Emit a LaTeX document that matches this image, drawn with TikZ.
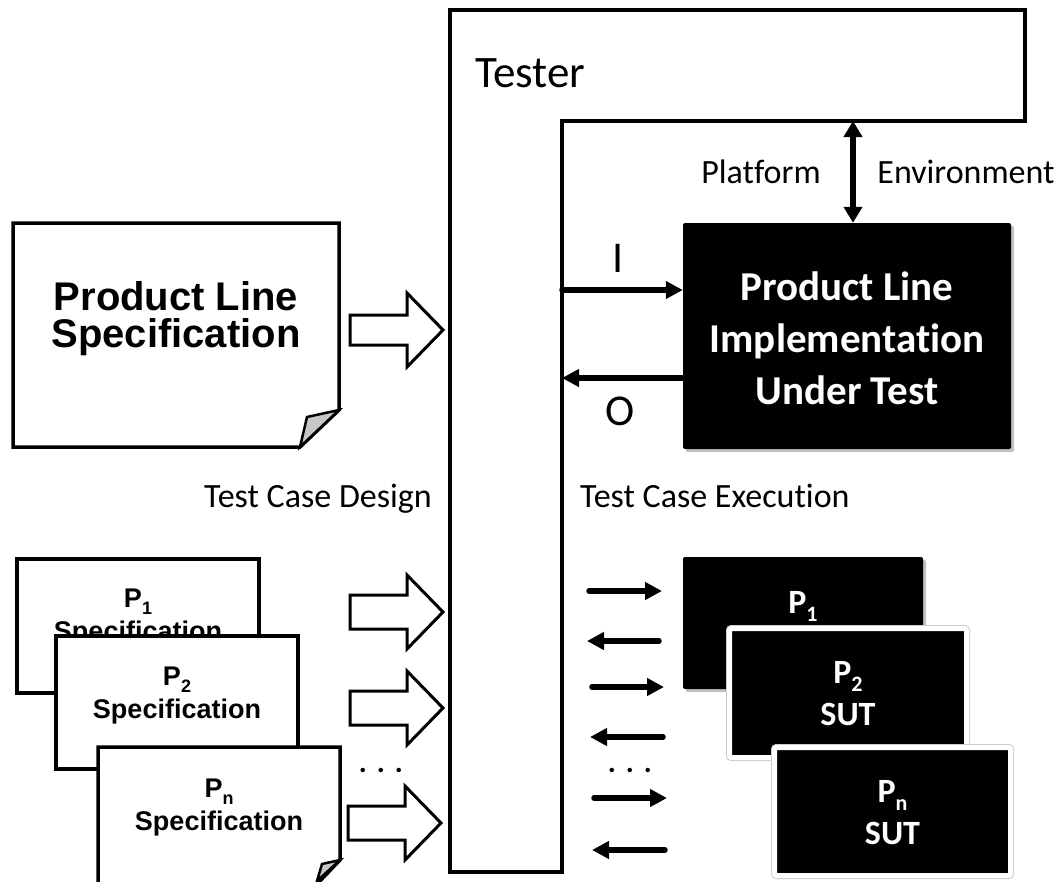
\documentclass[tikz,border=0pt]{standalone}
\usepackage{fontspec}
\setmainfont{Carlito}[Ligatures=NoCommon]
\newfontfamily\arialfont{Liberation Sans}[Ligatures=NoCommon]
\usetikzlibrary{arrows.meta,shadows,calc}
\newcommand{\subsc}[3]{\raisebox{-#1pt}{\fontsize{#2}{#2}\selectfont #3}}
\tikzset{
  testerline/.style={line width=4pt, line join=miter},
  doc/.style={line width=3.5pt, fill=white, line join=miter},
  fold/.style={line width=2.5pt, fill=black!22, line join=miter},
  blk/.style={line width=3pt, fill=white, line join=miter},
  arr/.style={line width=5.5pt, line cap=round, -{Triangle[length=17pt,width=17pt]}},
  dbl/.style={line width=6pt, {Triangle[length=16pt,width=18pt]}-{Triangle[length=16pt,width=18pt]}},
  sutbox/.style={fill=black, rounded corners=2pt, inner sep=0pt, drop shadow={shadow xshift=3pt, shadow yshift=-3pt, opacity=0.35, fill=black!70}},
  subbox/.style={fill=black, rounded corners=2pt, inner sep=0pt, preaction={draw=black!20, line width=7pt}, draw=white, line width=5pt},
  wtxt/.style={text=white, font=\bfseries\fontsize{41}{48}\selectfont, inner sep=0pt, anchor=base},
  swtxt/.style={text=white, font=\bfseries\fontsize{34}{40}\selectfont, inner sep=0pt, anchor=base},
  lbl/.style={font=\fontsize{34}{40}\selectfont, inner sep=0pt, anchor=base},
  bigspec/.style={font=\arialfont\bfseries\fontsize{40}{46}\selectfont, inner sep=0pt, anchor=base},
  smspec/.style={font=\arialfont\bfseries\fontsize{27}{32}\selectfont, inner sep=0pt, anchor=base},
  dots/.style={font=\bfseries\fontsize{30}{34}\selectfont, inner sep=0pt, anchor=base}
}
\newcommand{\blockarr}[3]{% left x, center y, half body
  \draw[blk] (#1,#2-#3) -- (#1+57,#2-#3) -- (#1+57,#2-37) -- (#1+93,#2) -- (#1+57,#2+37) -- (#1+57,#2+#3) -- (#1,#2+#3) -- cycle;}
\begin{document}
\begin{tikzpicture}[x=1pt,y=-1pt]
\useasboundingbox (0,0) rectangle (1064,881);
\clip (0,0) rectangle (1064,881);

% Tester
\draw[testerline] (450,10) -- (1025,10) -- (1025,121) -- (562,121) -- (562,872) -- (450,872) -- cycle;
\node[font=\fontsize{45}{50}\selectfont, inner sep=0pt, anchor=base west] (tester) at (475,87) {Tester};
\coordinate (envtop) at (853,121);
\coordinate (tI) at (562,290);
\coordinate (tO) at (562,378);

% Product line implementation under test
\node[sutbox, minimum width=328pt, minimum height=226pt] (plut) at (847,336) {};
\node[wtxt] (plut1) at (847,300) {Product Line};
\node[wtxt] (plut2) at (847,352) {Implementation};
\node[wtxt] (plut3) at (847,404) {Under Test};

\draw[dbl] (envtop) -- (envtop |- plut.north);
\node[lbl] (platform) at (761,183) {Platform};
\node[lbl] (environment) at (966,183) {Environment};

\draw[arr] (tI) -- (tI -| plut.west);
\draw[arr] (tO -| plut.west) -- (tO);
\node[font=\fontsize{44}{50}\selectfont, inner sep=0pt, anchor=base] (Ilbl) at (618,272) {I};
\node[font=\fontsize{44}{50}\selectfont, inner sep=0pt, anchor=base] (Olbl) at (620,425) {O};

% Product line specification
\draw[doc] (13,223) -- (339,223) -- (339,410) -- (300,447) -- (13,447) -- cycle;
\draw[fold] (339,410) -- (307,417) -- (300,447) -- cycle;
\node[bigspec] (pls1) at (176,310) {Product Line};
\node[bigspec] (pls2) at (176,347) {Specification};
\blockarr{350}{330}{15}

% section labels
\node[lbl, anchor=base east] (tcd) at (432,507) {Test Case Design};
\node[lbl, anchor=base west] (tce) at (580,507) {Test Case Execution};

% product specifications
\draw[doc] (17,559) rectangle (259,693);
\node[smspec] (p1a) at (138,607) {P\subsc{7}{18}{1}};
\node[smspec] (p1b) at (138,640) {Specification};
\draw[doc] (56,636) rectangle (298,769);
\node[smspec] (p2a) at (177,685) {P\subsc{7}{18}{2}};
\node[smspec] (p2b) at (177,718) {Specification};
\draw[doc] (98,747) -- (340,747) -- (340,860) -- (317,884) -- (98,884) -- cycle;
\draw[fold] (340,860) -- (322,864) -- (317,881) -- cycle;
\node[smspec] (pna) at (219,797) {P\subsc{7}{18}{n}};
\node[smspec] (pnb) at (219,830) {Specification};

\blockarr{350}{612}{17}
\blockarr{350}{708}{17}
\blockarr{348}{823}{17}
\node[dots] (ldots) at (381,772) {.\hspace{10pt}.\hspace{10pt}.};

% execution arrows
\foreach \y/\xa/\xb in {591/589/662, 687/592/664, 798/594/667}
  \draw[arr] (\xa,\y) -- (\xb,\y);
\foreach \y/\xa/\xb in {641/659/587, 737/663/590, 850/665/592}
  \draw[arr] (\xa,\y) -- (\xb,\y);
\node[dots] (rdots) at (630,772) {.\hspace{10pt}.\hspace{10pt}.};

% SUTs
\node[sutbox, minimum width=240pt, minimum height=132pt] (sut1) at (803,623) {};
\node[swtxt] (sut1a) at (803,613) {P\subsc{8}{22}{1}};
\node[subbox, minimum width=237pt, minimum height=129pt] (sut2) at (848,693) {};
\node[swtxt] (sut2a) at (848,683) {P\subsc{8}{22}{2}};
\node[swtxt] (sut2b) at (848,725) {SUT};
\node[subbox, minimum width=236pt, minimum height=128pt] (sutn) at (892.5,811.5) {};
\node[swtxt] (sutna) at (892.5,802) {P\subsc{8}{22}{n}};
\node[swtxt] (sutnb) at (892.5,844) {SUT};
\end{tikzpicture}
\end{document}
